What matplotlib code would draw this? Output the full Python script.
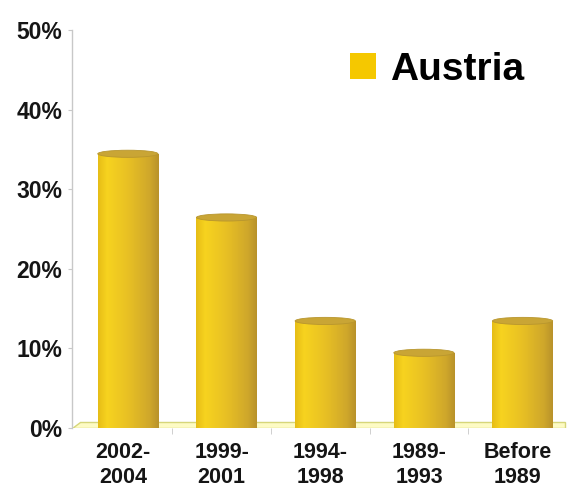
import numpy as np
import matplotlib.pyplot as plt
from matplotlib.patches import Ellipse, Polygon, Patch
from matplotlib.colors import LinearSegmentedColormap

periods = ['2002-\n2004', '1999-\n2001', '1994-\n1998', '1989-\n1993', 'Before\n1989']
share = [34, 26, 13, 9, 13]
series_name = 'Austria'

plt.rcParams['font.family'] = ['Liberation Sans', 'DejaVu Sans']

fig = plt.figure(figsize=(5.67, 4.88), dpi=100)
ax = fig.add_axes([72/567, 60/488, 495/567, 398/488])

x = np.arange(len(share))
bar_w = 0.61
cap_h = 0.9   # height of the top ellipse, in % units

xmin, xmax = -0.566, 4.434
ax.set_xlim(xmin, xmax)
ax.set_ylim(0, 50)

# floor strip
floor = Polygon([(xmin, 0), (xmax, 0), (xmax, 0.75), (xmin + 0.08, 0.75)],
                closed=True, facecolor='#fdfbc4', edgecolor='#d6d67a', lw=1.0, zorder=1)
ax.add_patch(floor)

# shading across the cylinder body
body_cmap = LinearSegmentedColormap.from_list('cyl', [
    (0.0, '#e6bd16'), (0.15, '#f7d31f'), (0.5, '#e8c024'),
    (0.85, '#cfa72b'), (1.0, '#b8922a')])
grad = np.linspace(0, 1, 256).reshape(1, -1)

bars = ax.bar(x, [v + cap_h / 2 for v in share], width=bar_w, color='#e8c024',
              linewidth=0, zorder=2)
for rect, v in zip(bars, share):
    x0 = rect.get_x()
    w = rect.get_width()
    img = ax.imshow(grad, cmap=body_cmap, aspect='auto',
                    extent=(x0, x0 + w, 0, v + cap_h / 2), zorder=3)
    img.set_clip_path(rect)
    top = Ellipse((x0 + w / 2, v + cap_h / 2), w, cap_h,
                  facecolor='#c9a535', edgecolor='#b8962e', lw=0.6, zorder=4)
    ax.add_patch(top)

ax.set_xlim(xmin, xmax)
ax.set_ylim(0, 50)

ax.set_xticks(x - 0.05)
ax.set_xticklabels(periods, fontsize=15.5, fontweight='bold', color='#151515',
                   linespacing=1.25)
ax.set_xticks(x + 0.45, minor=True)
ax.tick_params(axis='x', which='major', length=0, pad=10)
ax.tick_params(axis='x', which='minor', length=4, color='#c8c8c8', direction='out')

yt = [0, 10, 20, 30, 40, 50]
ax.set_yticks(yt)
ax.set_yticklabels([f'{t}%' for t in yt], fontsize=16.5, fontweight='bold', color='#151515')
ax.tick_params(axis='y', length=3, color='#c8c8c8', pad=4)

for s in ['top', 'right', 'bottom']:
    ax.spines[s].set_visible(False)
ax.spines['left'].set_color('#c8c8c8')
ax.spines['left'].set_linewidth(1.0)

ax.legend(handles=[Patch(facecolor='#f5c800', edgecolor='none', label=series_name)],
          loc='upper right', bbox_to_anchor=(0.945, 0.985), frameon=False,
          prop={'weight': 'bold', 'size': 28}, handlelength=0.68, handleheight=0.68,
          handletextpad=0.35, borderaxespad=0)

fig.savefig('out.png', dpi=100)
